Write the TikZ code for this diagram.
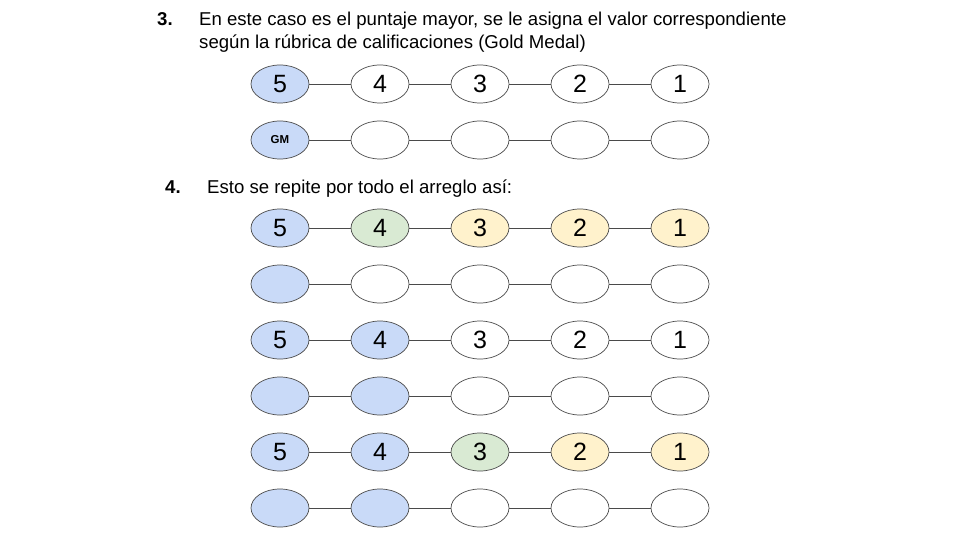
\documentclass[tikz,border=0pt]{standalone}
\usepackage{fontspec}
\setmainfont{Liberation Sans}
\usetikzlibrary{positioning,shapes.geometric}
\definecolor{medalblue}{HTML}{C9DAF8}
\definecolor{medalgreen}{HTML}{D9EAD3}
\definecolor{medalyellow}{HTML}{FFF2CC}
\definecolor{ringgray}{HTML}{4A4A4A}
\begin{document}
\begin{tikzpicture}[x=1pt,y=-1pt,node distance=41.3pt,
    score node/.style={ellipse,draw=ringgray,line width=0.7pt,minimum width=58pt,
      minimum height=38pt,inner sep=0pt,font=\fontsize{25}{25}\selectfont},
    blue node/.style={score node,fill=medalblue},
    green node/.style={score node,fill=medalgreen},
    yellow node/.style={score node,fill=medalyellow},
    link/.style={draw=ringgray,line width=0.7pt},
    step text/.style={anchor=base west,inner sep=0pt,font=\fontsize{18.6}{23}\selectfont}]
  \useasboundingbox (0,0) rectangle (960,540);

  % headings
  \node[step text,font=\fontsize{18.6}{23}\selectfont\bfseries] (n3) at (157,25.5) {3.};
  \node[step text] (t3a) at (199,25.5) {En este caso es el puntaje mayor, se le asigna el valor correspondiente};
  \node[step text] (t3b) at (199,48.5) {según la rúbrica de calificaciones (Gold Medal)};
  \node[step text,font=\fontsize{18.6}{23}\selectfont\bfseries] (n4) at (165,193.5) {4.};
  \node[step text] (t4) at (207,193.5) {Esto se repite por todo el arreglo así:};

  % step 3
  \node[blue node] (a1) at (280,84) {5};
  \node[score node] (a2) [right=of a1] {4};
  \node[score node] (a3) [right=of a2] {3};
  \node[score node] (a4) [right=of a3] {2};
  \node[score node] (a5) [right=of a4] {1};

  \node[blue node,font=\fontsize{11.5}{12}\selectfont\bfseries] (b1) at (280,140) {GM};
  \node[score node] (b2) [right=of b1] {};
  \node[score node] (b3) [right=of b2] {};
  \node[score node] (b4) [right=of b3] {};
  \node[score node] (b5) [right=of b4] {};

  % step 4
  \node[blue node] (c1) at (280,228) {5};
  \node[green node] (c2) [right=of c1] {4};
  \node[yellow node] (c3) [right=of c2] {3};
  \node[yellow node] (c4) [right=of c3] {2};
  \node[yellow node] (c5) [right=of c4] {1};

  \node[blue node] (d1) at (280,284) {};
  \node[score node] (d2) [right=of d1] {};
  \node[score node] (d3) [right=of d2] {};
  \node[score node] (d4) [right=of d3] {};
  \node[score node] (d5) [right=of d4] {};

  \node[blue node] (e1) at (280,340) {5};
  \node[blue node] (e2) [right=of e1] {4};
  \node[score node] (e3) [right=of e2] {3};
  \node[score node] (e4) [right=of e3] {2};
  \node[score node] (e5) [right=of e4] {1};

  \node[blue node] (f1) at (280,396) {};
  \node[blue node] (f2) [right=of f1] {};
  \node[score node] (f3) [right=of f2] {};
  \node[score node] (f4) [right=of f3] {};
  \node[score node] (f5) [right=of f4] {};

  \node[blue node] (g1) at (280,452) {5};
  \node[blue node] (g2) [right=of g1] {4};
  \node[green node] (g3) [right=of g2] {3};
  \node[yellow node] (g4) [right=of g3] {2};
  \node[yellow node] (g5) [right=of g4] {1};

  \node[blue node] (h1) at (280,508) {};
  \node[blue node] (h2) [right=of h1] {};
  \node[score node] (h3) [right=of h2] {};
  \node[score node] (h4) [right=of h3] {};
  \node[score node] (h5) [right=of h4] {};

  \foreach \r in {a,b,c,d,e,f,g,h}
    \foreach \i/\j in {1/2,2/3,3/4,4/5}
      \draw[link] (\r\i) -- (\r\j);
\end{tikzpicture}
\end{document}
